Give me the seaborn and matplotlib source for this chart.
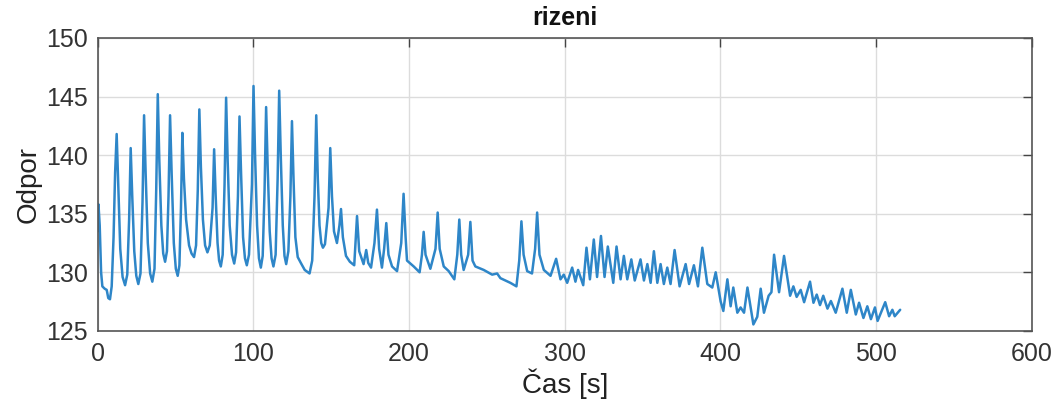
import matplotlib
matplotlib.use("Agg")
import matplotlib.pyplot as plt
import seaborn as sns
import pandas as pd

# Resistance trace over time
cas_s = [
    0.0, 0.5, 1.3, 2.2, 3.0, 4.5, 5.8, 6.8, 7.9, 9.0, 10.2, 11.2,
    12.2, 13.2, 14.5, 16.0, 17.6, 19.0, 20.2,
    21.2, 22.2, 23.5, 24.8, 26.1, 27.5, 28.8,
    29.8, 30.8, 32.2, 33.7, 35.1, 36.5, 37.6,
    38.6, 39.6, 40.9, 42.1, 43.3, 44.5, 45.5,
    46.5, 47.5, 48.9, 50.2, 51.4, 52.5, 53.5,
    54.4, 55.4, 56.8, 58.7, 60.3, 61.9, 63.2, 64.3,
    65.3, 66.3, 67.6, 69.0, 70.5, 72.0, 73.8,
    74.8, 75.8, 77.0, 78.0, 79.1, 80.3, 81.5,
    82.5, 83.5, 84.8, 86.3, 87.7, 88.9, 90.1,
    91.1, 92.1, 93.4, 94.6, 95.8, 97.2, 99.1,
    100.1, 101.1, 102.4, 103.6, 104.8, 106.0, 107.2,
    108.2, 109.2, 110.5, 111.7, 112.9, 114.3, 115.6,
    116.6, 117.6, 118.9, 120.0, 121.1, 122.5, 123.8,
    124.8, 125.8, 127.0, 128.5, 130.5, 133.0, 136.1, 137.8, 139.3,
    140.4, 141.4, 142.5, 143.6, 144.7, 146.0, 148.3,
    149.4, 150.5, 151.8, 153.7, 155.3, 156.3, 157.5, 159.5, 162.0,
    164.8, 166.6, 168.0, 170.8, 172.5,
    173.8, 175.6, 177.8, 179.4, 180.8, 182.6, 184.0, 185.4, 186.8, 189.1,
    192.3, 195.0, 196.5, 197.8, 198.7, 203.0, 206.8, 208.3, 209.4, 210.6,
    213.7, 217.0, 218.4, 219.7, 222.3, 225.5, 229.1, 231.0, 232.3, 233.5,
    235.1, 238.0, 239.4, 240.8, 242.6, 248.0, 253.4, 256.6, 258.7, 265.1,
    269.0, 270.8, 272.2, 273.6, 275.9, 279.0, 281.0, 282.3, 283.8, 286.6,
    290.9, 294.5, 297.3, 299.4, 301.6, 304.8, 306.9, 308.6, 311.9, 314.0,
    316.2, 318.7, 320.8, 323.3, 325.6, 327.7, 331.2, 333.3, 335.9, 338.0,
    340.2, 342.8, 345.0, 348.7, 350.9, 353.1, 355.2, 357.3, 359.5, 361.6,
    363.7, 365.9, 368.0, 370.6, 373.8, 377.7, 379.9, 383.0, 385.6, 388.4,
    391.6, 394.8, 397.0, 400.2, 401.9, 404.5, 406.6, 408.3, 410.9, 413.0,
    415.2, 417.4, 421.2, 423.7, 425.9, 428.0, 431.0, 432.8, 434.5, 437.7,
    440.9, 444.8, 446.9, 449.0, 451.6, 453.8, 457.6, 459.8, 461.9, 464.0,
    466.1, 468.8, 471.0, 474.1, 478.4, 481.2, 483.8, 487.0, 489.1, 491.9,
    494.4, 496.7, 499.3, 501.0, 505.9, 508.4, 510.5, 512.0, 515.5,
]
odpor = [
    133.5, 135.8, 134.0, 130.0, 128.8, 128.6, 128.5, 127.8, 127.7, 128.8, 133.0, 138.5,
    141.8, 137.5, 132.0, 129.6, 128.9, 129.8, 134.5,
    140.6, 136.5, 131.8, 129.7, 129.0, 129.9, 136.0,
    143.4, 138.5, 132.5, 129.9, 129.2, 130.3, 137.0,
    145.2, 139.5, 134.0, 131.6, 130.9, 131.8, 136.5,
    143.4, 138.5, 132.5, 130.3, 129.7, 130.6, 135.5,
    141.9, 138.0, 134.5, 132.3, 131.6, 131.3, 132.3, 137.0,
    143.9, 139.0, 134.5, 132.3, 131.7, 132.3, 135.5,
    140.5, 136.5, 132.5, 131.0, 130.5, 131.5, 137.5,
    144.9, 139.5, 134.0, 131.5, 130.75, 131.7, 136.5,
    143.3, 138.5, 133.0, 131.2, 130.6, 131.5, 137.5,
    145.9, 140.0, 134.0, 131.2, 130.4, 131.4, 137.0,
    144.1, 139.0, 133.5, 131.2, 130.5, 131.5, 138.0,
    145.5, 140.0, 134.0, 131.4, 130.7, 131.8, 136.5,
    142.9, 138.0, 133.0, 131.3, 130.8, 130.2, 129.9, 131.0, 136.5,
    143.4, 138.0, 134.0, 132.5, 132.1, 132.4, 135.5,
    140.6, 136.5, 133.5, 132.5, 134.0, 135.4, 133.0, 131.4, 130.9,
    130.6, 134.8, 131.8, 130.7, 131.9,
    130.8, 130.4, 132.5, 135.35, 132.0, 130.4, 132.0, 134.2, 131.5, 130.5,
    130.1, 132.5, 136.7, 133.0, 131.0, 130.5, 130.0, 131.5, 133.45, 131.5,
    130.3, 132.0, 135.1, 132.0, 130.5, 130.1, 129.4, 131.5, 134.5, 131.5,
    130.2, 131.5, 134.3, 131.0, 130.5, 130.2, 129.8, 129.9, 129.5, 129.1,
    128.8, 131.0, 134.35, 131.5, 130.1, 129.9, 132.0, 135.1, 131.5, 130.2,
    129.7, 131.15, 129.4, 129.8, 129.1, 130.4, 129.2, 130.2, 128.9, 132.1,
    129.4, 132.8, 129.6, 133.1, 129.6, 132.2, 129.1, 132.2, 129.4, 131.4,
    129.4, 131.1, 129.3, 131.1, 129.3, 130.7, 129.1, 131.8, 129.1, 130.7,
    129.0, 130.4, 129.0, 131.9, 128.8, 130.7, 129.0, 130.6, 128.8, 132.1,
    129.0, 128.7, 130.0, 127.5, 126.7, 129.4, 127.1, 128.7, 126.55, 127.0,
    126.55, 128.7, 125.55, 126.2, 128.6, 126.55, 128.0, 128.3, 131.5, 128.3,
    131.4, 128.0, 128.8, 127.9, 128.5, 127.45, 129.2, 127.4, 128.1, 127.2,
    128.0, 126.9, 127.55, 126.55, 128.6, 126.55, 128.5, 126.4, 127.4, 126.1,
    127.1, 126.0, 127.0, 125.85, 127.45, 126.25, 126.8, 126.25, 126.8,
]

x_ticks = [0, 100, 200, 300, 400, 500, 600]
y_ticks = [125, 130, 135, 140, 145, 150]

sns.set_theme(style="white")
plt.rcParams["font.family"] = ["Liberation Sans", "DejaVu Sans"]

df = pd.DataFrame({"Čas [s]": cas_s, "Odpor": odpor})

fig = plt.figure(figsize=(10.56, 4.08), dpi=100)
ax = fig.add_axes([0.0925, 0.189, 0.8845, 0.718])

sns.lineplot(data=df, x="Čas [s]", y="Odpor", ax=ax, color="#2e86c8",
             linewidth=1.8, estimator=None, sort=False)
ax.lines[0].set_solid_joinstyle("round")

ax.set_xlim(0, 600)
ax.set_ylim(125, 150)
ax.set_xticks(x_ticks)
ax.set_yticks(y_ticks)

ax.grid(True, color="#dcdcdc", linewidth=1.0)
ax.set_axisbelow(True)
for side in ["left", "right", "top", "bottom"]:
    ax.spines[side].set_visible(True)
    ax.spines[side].set_color("#555555")
    ax.spines[side].set_linewidth(1.2)

ax.tick_params(axis="both", which="major", direction="in", length=6.5,
               width=1.0, color="#444444", labelsize=18, labelcolor="#333333",
               top=True, right=True)
ax.tick_params(axis="x", pad=8)
ax.tick_params(axis="y", pad=7)

ax.set_xlabel("Čas [s]", fontsize=20, color="#222222", labelpad=2)
ax.set_ylabel("Odpor", fontsize=20, color="#222222", labelpad=3)
ax.set_title("rizeni", fontsize=18, fontweight="bold", color="#111111", pad=9)

fig.savefig("out.png", dpi=100)
